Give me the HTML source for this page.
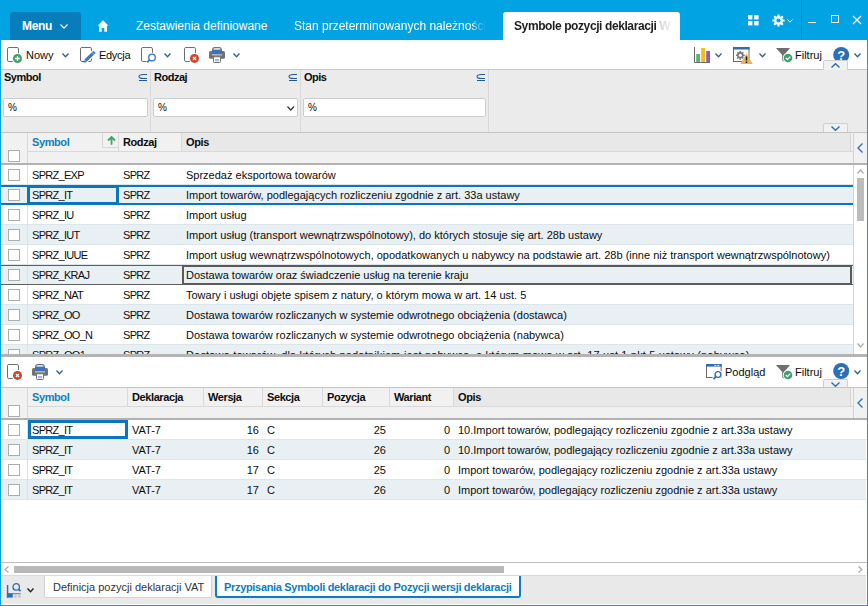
<!DOCTYPE html>
<html><head><meta charset="utf-8"><style>
*{box-sizing:border-box;margin:0;padding:0}
html,body{width:868px;height:606px;overflow:hidden}
body{position:relative;background:#01a3e2;font-family:"Liberation Sans",sans-serif;font-size:11px;color:#0c0c0c}
.a{position:absolute}
.t{position:absolute;white-space:nowrap;line-height:13px}
.w{color:#fff}
.b{font-weight:bold}
.u{letter-spacing:-0.7px}
.inp{position:absolute;background:#fff;border:1px solid #cdcdcd;border-radius:2px;height:19px}
.chk{position:absolute;left:8px;width:12px;height:12px;border:1px solid #adadad;background:#fff}
.r{text-align:right}
svg{position:absolute;overflow:visible}
</style></head><body>
<div class="a" style="left:10px;top:12px;width:71px;height:28px;background:#077dbb;border-radius:3px 3px 0 0"></div>
<div class="t w b" style="left:22px;top:20px;font-size:12px;letter-spacing:-0.3px">Menu</div>
<svg style="left:60px;top:24px" width="8" height="4.5" viewBox="0 0 8 4.5"><path d="M0.5 0.5 L4.0 4.2 L7.5 0.5" fill="none" stroke="#fff" stroke-width="1.2"/></svg>
<svg style="left:97px;top:20px" width="12" height="12" viewBox="0 0 12 12"><path d="M6 0.3 L11.5 5.8 L10 5.8 L10 11.7 L7.3 11.7 L7.3 8 L4.7 8 L4.7 11.7 L2 11.7 L2 5.8 L0.5 5.8 Z" fill="#fff"/></svg>
<div class="t w" style="left:136px;top:20px;font-size:12px">Zestawienia definiowane</div>
<div class="t w" style="left:294px;top:20px;font-size:12px;width:192px;overflow:hidden;-webkit-mask-image:linear-gradient(to right,#000 179px,rgba(0,0,0,0.55) 181px,rgba(0,0,0,0.25) 188px,transparent 192px)">Stan przeterminowanych należności</div>
<div class="a" style="left:503px;top:12px;width:177px;height:28px;background:#fff;border-radius:3px 3px 0 0"></div>
<div class="t b" style="left:514px;top:20px;font-size:12px;letter-spacing:-0.4px;color:#1e1e1e;width:158px;overflow:hidden;-webkit-mask-image:linear-gradient(to right,#000 144px,rgba(0,0,0,0.2) 146px,rgba(0,0,0,0.08) 156px,transparent 160px)">Symbole pozycji deklaracji W</div>
<svg style="left:747.7px;top:14.8px" width="11" height="11" viewBox="0 0 11 11"><rect x="0" y="0" width="4.4" height="4.4" fill="#fff"/><rect x="6.2" y="0" width="4.4" height="4.4" fill="#fff"/><rect x="0" y="6" width="4.4" height="4.4" fill="#fff"/><rect x="6.2" y="6" width="4.4" height="4.4" fill="#fff"/></svg>
<svg style="left:771.5px;top:14px" width="13" height="13" viewBox="0 0 13 13"><path d="M5.42 2.13 L5.48 0.38 L7.52 0.38 L7.58 2.13 L8.82 2.64 L10.10 1.46 L11.54 2.90 L10.36 4.18 L10.87 5.42 L12.62 5.48 L12.62 7.52 L10.87 7.58 L10.36 8.82 L11.54 10.10 L10.10 11.54 L8.82 10.36 L7.58 10.87 L7.52 12.62 L5.48 12.62 L5.42 10.87 L4.18 10.36 L2.90 11.54 L1.46 10.10 L2.64 8.82 L2.13 7.58 L0.38 7.52 L0.38 5.48 L2.13 5.42 L2.64 4.18 L1.46 2.90 L2.90 1.46 L4.18 2.64 Z" fill="#fff"/><circle cx="6.5" cy="6.5" r="2.1" fill="#01a3e2"/></svg>
<svg style="left:787px;top:19px" width="6" height="3.5" viewBox="0 0 6 3.5"><path d="M0.5 0.5 L3.0 3.2 L5.5 0.5" fill="none" stroke="#fff" stroke-width="1"/></svg>
<div class="a" style="left:801px;top:0px;width:1px;height:40px;background:#0a8ac4;"></div>
<div class="a" style="left:808px;top:22px;width:8px;height:1.3px;background:#fff;"></div>
<div class="a" style="left:831px;top:15px;width:8px;height:8px;border:1.2px solid #fff"></div>
<svg style="left:853px;top:16px" width="8" height="8" viewBox="0 0 8 8"><path d="M0 0 L8 8 M8 0 L0 8" stroke="#fff" stroke-width="1.2"/></svg>
<div class="a" style="left:1px;top:40px;width:866px;height:565px;background:#fff;"></div>
<div class="a" style="left:1px;top:69px;width:866px;height:1px;background:#c9c9c9;"></div>
<svg style="left:7px;top:47px" width="12" height="15" viewBox="0 0 12 15"><rect x="0.5" y="0.5" width="11" height="14" rx="1.4" fill="none" stroke="#6e6e6e" stroke-width="1"/></svg>
<svg style="left:7px;top:47px" width="16" height="17" viewBox="0 0 16 17"><circle cx="10.5" cy="11.5" r="5.6" fill="#fff"/><circle cx="10.5" cy="11.5" r="4.5" fill="#3f9f6b"/><path d="M10.5 9.1 V13.9 M8.1 11.5 H12.9" stroke="#fff" stroke-width="1.3"/></svg>
<div class="t " style="left:26px;top:49px;">Nowy</div>
<svg style="left:62px;top:53px" width="7" height="4" viewBox="0 0 7 4"><path d="M0.5 0.5 L3.5 3.7 L6.5 0.5" fill="none" stroke="#2f5f93" stroke-width="1.3"/></svg>
<svg style="left:80px;top:47px" width="12" height="15" viewBox="0 0 12 15"><rect x="0.5" y="0.5" width="11" height="14" rx="1.4" fill="none" stroke="#6e6e6e" stroke-width="1"/></svg>
<svg style="left:80px;top:47px" width="16" height="17" viewBox="0 0 16 17"><path d="M5.48 13.68 L14.6 4.8" stroke="#fff" stroke-width="5.4"/><path d="M3.4 15.7 L6.24 15.18 L4.0 12.88 Z" fill="#3d78c4"/><path d="M5.48 13.68 L14.6 4.8" stroke="#3d78c4" stroke-width="3.2"/><path d="M11.8 5.3 L14.1 7.6" stroke="#fff" stroke-width="0.6"/></svg>
<div class="t " style="left:99px;top:49px;letter-spacing:-0.3px">Edycja</div>
<svg style="left:141px;top:47px" width="12" height="15" viewBox="0 0 12 15"><rect x="0.5" y="0.5" width="11" height="14" rx="1.4" fill="none" stroke="#6e6e6e" stroke-width="1"/></svg>
<svg style="left:141px;top:47px" width="16" height="17" viewBox="0 0 16 17"><circle cx="11" cy="10.4" r="4.6" fill="#fff"/><path d="M8.6 12.8 L6.2 15.2" stroke="#fff" stroke-width="3.4"/><circle cx="11" cy="10.4" r="3.3" fill="#fff" stroke="#3d78c4" stroke-width="1.4"/><path d="M8.6 12.8 L6.1 15.3" stroke="#3d78c4" stroke-width="1.9"/></svg>
<svg style="left:164px;top:53px" width="7" height="4" viewBox="0 0 7 4"><path d="M0.5 0.5 L3.5 3.7 L6.5 0.5" fill="none" stroke="#2f5f93" stroke-width="1.3"/></svg>
<svg style="left:184px;top:47px" width="12" height="15" viewBox="0 0 12 15"><rect x="0.5" y="0.5" width="11" height="14" rx="1.4" fill="none" stroke="#6e6e6e" stroke-width="1"/></svg>
<svg style="left:184px;top:47px" width="16" height="17" viewBox="0 0 16 17"><circle cx="10.5" cy="11.4" r="5.6" fill="#fff"/><circle cx="10.5" cy="11.4" r="4.5" fill="#cd4426"/><path d="M8.9 9.8 L12.1 13 M12.1 9.8 L8.9 13" stroke="#fff" stroke-width="1.2"/></svg>
<svg style="left:209px;top:47px" width="16" height="16" viewBox="0 0 16 16"><path d="M3.7 3.5 V2.6 A2.1 2.1 0 0 1 5.8 0.6 H10.1 A2.1 2.1 0 0 1 12.2 2.6 V3.5" fill="#fff" stroke="#727272" stroke-width="1.2"/><rect x="0" y="4" width="16" height="7.8" rx="1.6" fill="#727272"/><rect x="3" y="2.6" width="10" height="4.7" fill="#3d72bd"/><rect x="3" y="7.3" width="10" height="1.1" fill="#cfcfcf"/><rect x="4.5" y="9.8" width="7" height="5.7" rx="0.8" fill="#fff" stroke="#727272" stroke-width="1"/><path d="M6 12.6 H10 M6 13.8 H10" stroke="#7aa3d8" stroke-width="0.9"/></svg>
<svg style="left:233px;top:53px" width="7" height="4" viewBox="0 0 7 4"><path d="M0.5 0.5 L3.5 3.7 L6.5 0.5" fill="none" stroke="#2f5f93" stroke-width="1.3"/></svg>
<svg style="left:694px;top:47px" width="17" height="16" viewBox="0 0 17 16"><path d="M0.5 0 V15.5 H16" fill="none" stroke="#6a6a6a" stroke-width="1"/><rect x="2.2" y="7" width="3.8" height="8" fill="#5cb56a"/><rect x="7.2" y="1" width="3.8" height="14" fill="#f6bd16"/><rect x="12.2" y="4" width="3.8" height="11" fill="#8a5cc4"/></svg>
<svg style="left:715px;top:53px" width="7" height="4" viewBox="0 0 7 4"><path d="M0.5 0.5 L3.5 3.7 L6.5 0.5" fill="none" stroke="#2f5f93" stroke-width="1.3"/></svg>
<svg style="left:733px;top:47px" width="20" height="18" viewBox="0 0 20 18"><rect x="0.5" y="0.5" width="15.5" height="14" fill="#fff" stroke="#6a6a6a" stroke-width="1"/><rect x="0" y="0" width="16.5" height="2.5" fill="#2f6db3"/><path d="M6.50 5.10 L6.58 3.96 L8.02 3.96 L8.10 5.10 L9.00 5.47 L9.86 4.72 L10.88 5.74 L10.13 6.60 L10.50 7.50 L11.64 7.58 L11.64 9.02 L10.50 9.10 L10.13 10.00 L10.88 10.86 L9.86 11.88 L9.00 11.13 L8.10 11.50 L8.02 12.64 L6.58 12.64 L6.50 11.50 L5.60 11.13 L4.74 11.88 L3.72 10.86 L4.47 10.00 L4.10 9.10 L2.96 9.02 L2.96 7.58 L4.10 7.50 L4.47 6.60 L3.72 5.74 L4.74 4.72 L5.60 5.47 Z" fill="#7a7a7a"/><circle cx="7.3" cy="8.3" r="1.5" fill="#fff"/><path d="M13.5 6.5 L19.7 17 L7.3 17 Z" fill="#e9b459"/><path d="M13.5 9.5 V13.6 M13.5 14.6 V16" stroke="#111" stroke-width="1.4"/></svg>
<svg style="left:759px;top:53px" width="7" height="4" viewBox="0 0 7 4"><path d="M0.5 0.5 L3.5 3.7 L6.5 0.5" fill="none" stroke="#2f5f93" stroke-width="1.3"/></svg>
<svg style="left:776px;top:47px" width="17" height="16" viewBox="0 0 17 16"><path d="M0 1 H14 L8.2 8 V14.5 L6.2 13.5 V8 Z" fill="#6f6f6f"/><circle cx="12" cy="11" r="5.2" fill="#fff"/><circle cx="12" cy="11" r="4.3" fill="#40a06c"/><path d="M9.8 11 L11.4 12.6 L14.3 9.6" fill="none" stroke="#fff" stroke-width="1.2"/></svg>
<div class="t " style="left:795px;top:49px;">Filtruj</div>
<svg style="left:833px;top:47px" width="17" height="17" viewBox="0 0 17 17"><circle cx="8.2" cy="8" r="8" fill="#2b6fb6"/><text x="8.3" y="12.6" text-anchor="middle" font-family="Liberation Sans" font-weight="bold" font-size="13" fill="#fff">?</text></svg>
<svg style="left:854px;top:53px" width="7" height="4" viewBox="0 0 7 4"><path d="M0.5 0.5 L3.5 3.7 L6.5 0.5" fill="none" stroke="#2f5f93" stroke-width="1.3"/></svg>
<div class="a" style="left:823px;top:60px;width:25px;height:10px;background:#f1f1f1;border:1px solid #cfcfcf;border-bottom:none;border-radius:2px 2px 0 0"></div>
<svg style="left:831px;top:63px" width="9" height="5" viewBox="0 0 9 5"><path d="M0.5 4.5 L4.5 0.8 L8.5 4.5" fill="none" stroke="#2a6db5" stroke-width="1.4"/></svg>
<div class="a" style="left:1px;top:70px;width:866px;height:62px;background:#ebebeb;"></div>
<div class="a" style="left:150px;top:70px;width:1px;height:62px;background:#d8d8d8;"></div>
<div class="a" style="left:300px;top:70px;width:1px;height:62px;background:#d8d8d8;"></div>
<div class="a" style="left:488px;top:70px;width:1px;height:62px;background:#d8d8d8;"></div>
<div class="t b" style="left:4px;top:71px;letter-spacing:-0.5px">Symbol</div>
<div class="t b" style="left:154px;top:71px;letter-spacing:-0.5px">Rodzaj</div>
<div class="t b" style="left:304px;top:71px;letter-spacing:-0.5px">Opis</div>
<svg style="left:138px;top:73px" width="10" height="10" viewBox="0 0 10 10"><path d="M9 1.5 H5.5 C2.2 1.5 1 2.5 1 3.5 C1 4.5 2.2 5.5 5.5 5.5 H9 M1 7.5 H9" fill="none" stroke="#1f5a96" stroke-width="1.1"/></svg>
<svg style="left:288px;top:73px" width="10" height="10" viewBox="0 0 10 10"><path d="M9 1.5 H5.5 C2.2 1.5 1 2.5 1 3.5 C1 4.5 2.2 5.5 5.5 5.5 H9 M1 7.5 H9" fill="none" stroke="#1f5a96" stroke-width="1.1"/></svg>
<svg style="left:476px;top:73px" width="10" height="10" viewBox="0 0 10 10"><path d="M9 1.5 H5.5 C2.2 1.5 1 2.5 1 3.5 C1 4.5 2.2 5.5 5.5 5.5 H9 M1 7.5 H9" fill="none" stroke="#1f5a96" stroke-width="1.1"/></svg>
<div class="inp" style="left:3px;top:98px;width:145px"></div>
<div class="inp" style="left:153px;top:98px;width:145px"></div>
<div class="inp" style="left:303px;top:98px;width:183px"></div>
<div class="t " style="left:8px;top:101px;font-size:10px">%</div>
<div class="t " style="left:158px;top:101px;font-size:10px">%</div>
<div class="t " style="left:308px;top:101px;font-size:10px">%</div>
<svg style="left:287px;top:105.5px" width="7.5" height="4.3" viewBox="0 0 7.5 4.3"><path d="M0.5 0.5 L3.75 4.0 L7.0 0.5" fill="none" stroke="#333" stroke-width="1.2"/></svg>
<div class="a" style="left:1px;top:132px;width:866px;height:1px;background:#c4c4c4;"></div>
<div class="a" style="left:823px;top:123px;width:25px;height:9px;background:#f1f1f1;border:1px solid #cfcfcf;border-bottom:none;border-radius:2px 2px 0 0"></div>
<svg style="left:831px;top:126px" width="9" height="4.5" viewBox="0 0 9 4.5"><path d="M0.5 0.5 L4.5 4.2 L8.5 0.5" fill="none" stroke="#2a6db5" stroke-width="1.4"/></svg>
<div class="a" style="left:1px;top:133px;width:866px;height:32px;background:#f1f1f1;"></div>
<div class="a" style="left:181px;top:133px;width:670px;height:18px;background:#e8e8e8;border-right:1px solid #d6d6d6"></div>
<div class="a" style="left:28px;top:151px;width:825px;height:1px;background:#d9d9d9;"></div>
<div class="a" style="left:27px;top:133px;width:1px;height:18px;background:#d9d9d9;"></div>
<div class="a" style="left:118px;top:133px;width:1px;height:18px;background:#d9d9d9;"></div>
<div class="a" style="left:181px;top:133px;width:1px;height:18px;background:#d9d9d9;"></div>
<div class="a" style="left:27px;top:151px;width:1px;height:12px;background:#d9d9d9;"></div>
<div class="a" style="left:102px;top:133px;width:16px;height:15px;border-left:1px solid #d6d6d6;border-bottom:1px solid #d6d6d6"></div>
<svg style="left:107px;top:136px" width="9" height="9" viewBox="0 0 9 9"><path d="M4.5 8.7 V1.2 M1 4.5 L4.5 1 L8 4.5" fill="none" stroke="#3fa46a" stroke-width="1.8"/></svg>
<div class="chk" style="top:150px"></div>
<div class="a" style="left:1px;top:163px;width:852px;height:2px;background:#b2b2b2;"></div>
<div class="a" style="left:853px;top:132px;width:1px;height:222px;background:#d3d3d3;"></div>
<div class="a" style="left:853px;top:163px;width:14px;height:2px;background:#b2b2b2;"></div>
<svg style="left:857px;top:143px" width="6" height="10" viewBox="0 0 6 10"><path d="M5.5 0.5 L1 5 L5.5 9.5" fill="none" stroke="#2a6db5" stroke-width="1.3"/></svg>
<div class="t b" style="left:32px;top:136px;color:#0e7fc3;letter-spacing:-0.4px">Symbol</div>
<div class="t b" style="left:123px;top:136px;letter-spacing:-0.4px">Rodzaj</div>
<div class="t b" style="left:186px;top:136px;letter-spacing:-0.4px">Opis</div>
<div class="a" style="left:1px;top:165px;width:852px;height:189px;overflow:hidden">
<div class="a" style="left:0;top:0px;width:852px;height:20px;background:#fff;border-bottom:1px solid #dde5ec"></div>
<div class="a" style="left:26px;top:0px;width:1px;height:20px;background:#d5e2ef"></div>
<div class="chk" style="left:7px;top:4px"></div>
<div class="t u" style="left:31px;top:4px">SPRZ_EXP</div>
<div class="t u" style="left:122px;top:4px">SPRZ</div>
<div class="t" style="left:185px;top:4px">Sprzedaż eksportowa towarów</div>
<div class="a" style="left:0;top:20px;width:852px;height:20px;background:#e9f0f4;border-bottom:1px solid #dde5ec"></div>
<div class="a" style="left:26px;top:20px;width:1px;height:20px;background:#d5e2ef"></div>
<div class="a" style="left:0;top:20px;width:852px;height:20px;border-top:2px solid #0a76bd;border-bottom:2px solid #0a76bd"></div>
<div class="a" style="left:26px;top:20px;width:92px;height:20px;border:3px solid #0a76bd"></div>
<div class="chk" style="left:7px;top:24px"></div>
<div class="t u" style="left:31px;top:24px">SPRZ_IT</div>
<div class="t u" style="left:122px;top:24px">SPRZ</div>
<div class="t" style="left:185px;top:24px">Import towarów, podlegających rozliczeniu zgodnie z art. 33a ustawy</div>
<div class="a" style="left:0;top:40px;width:852px;height:20px;background:#fff;border-bottom:1px solid #dde5ec"></div>
<div class="a" style="left:26px;top:40px;width:1px;height:20px;background:#d5e2ef"></div>
<div class="chk" style="left:7px;top:44px"></div>
<div class="t u" style="left:31px;top:44px">SPRZ_IU</div>
<div class="t u" style="left:122px;top:44px">SPRZ</div>
<div class="t" style="left:185px;top:44px">Import usług</div>
<div class="a" style="left:0;top:60px;width:852px;height:20px;background:#e9f0f4;border-bottom:1px solid #dde5ec"></div>
<div class="a" style="left:26px;top:60px;width:1px;height:20px;background:#d5e2ef"></div>
<div class="chk" style="left:7px;top:64px"></div>
<div class="t u" style="left:31px;top:64px">SPRZ_IUT</div>
<div class="t u" style="left:122px;top:64px">SPRZ</div>
<div class="t" style="left:185px;top:64px">Import usług (transport wewnątrzwspólnotowy), do których stosuje się art. 28b ustawy</div>
<div class="a" style="left:0;top:80px;width:852px;height:20px;background:#fff;border-bottom:1px solid #dde5ec"></div>
<div class="a" style="left:26px;top:80px;width:1px;height:20px;background:#d5e2ef"></div>
<div class="chk" style="left:7px;top:84px"></div>
<div class="t u" style="left:31px;top:84px">SPRZ_IUUE</div>
<div class="t u" style="left:122px;top:84px">SPRZ</div>
<div class="t" style="left:185px;top:84px">Import usług wewnątrzwspólnotowych, opodatkowanych u nabywcy na podstawie art. 28b (inne niż transport wewnątrzwspólnotowy)</div>
<div class="a" style="left:0;top:100px;width:852px;height:20px;background:#e9f0f4;border-bottom:1px solid #dde5ec"></div>
<div class="a" style="left:26px;top:100px;width:1px;height:20px;background:#d5e2ef"></div>
<div class="a" style="left:0;top:100px;width:852px;height:20px;border-top:1px solid #5f5f5f;border-bottom:1px solid #5f5f5f"></div>
<div class="a" style="left:181px;top:100px;width:670px;height:20px;border:2px solid #5a5a5a"></div>
<div class="chk" style="left:7px;top:104px"></div>
<div class="t u" style="left:31px;top:104px">SPRZ_KRAJ</div>
<div class="t u" style="left:122px;top:104px">SPRZ</div>
<div class="t" style="left:185px;top:104px">Dostawa towarów oraz świadczenie usług na terenie kraju</div>
<div class="a" style="left:0;top:120px;width:852px;height:20px;background:#fff;border-bottom:1px solid #dde5ec"></div>
<div class="a" style="left:26px;top:120px;width:1px;height:20px;background:#d5e2ef"></div>
<div class="chk" style="left:7px;top:124px"></div>
<div class="t u" style="left:31px;top:124px">SPRZ_NAT</div>
<div class="t u" style="left:122px;top:124px">SPRZ</div>
<div class="t" style="left:185px;top:124px">Towary i usługi objęte spisem z natury, o którym mowa w art. 14 ust. 5</div>
<div class="a" style="left:0;top:140px;width:852px;height:20px;background:#e9f0f4;border-bottom:1px solid #dde5ec"></div>
<div class="a" style="left:26px;top:140px;width:1px;height:20px;background:#d5e2ef"></div>
<div class="chk" style="left:7px;top:144px"></div>
<div class="t u" style="left:31px;top:144px">SPRZ_OO</div>
<div class="t u" style="left:122px;top:144px">SPRZ</div>
<div class="t" style="left:185px;top:144px">Dostawa towarów rozliczanych w systemie odwrotnego obciążenia (dostawca)</div>
<div class="a" style="left:0;top:160px;width:852px;height:20px;background:#fff;border-bottom:1px solid #dde5ec"></div>
<div class="a" style="left:26px;top:160px;width:1px;height:20px;background:#d5e2ef"></div>
<div class="chk" style="left:7px;top:164px"></div>
<div class="t u" style="left:31px;top:164px">SPRZ_OO_N</div>
<div class="t u" style="left:122px;top:164px">SPRZ</div>
<div class="t" style="left:185px;top:164px">Dostawa towarów rozliczanych w systemie odwrotnego obciążenia (nabywca)</div>
<div class="a" style="left:0;top:180px;width:852px;height:20px;background:#e9f0f4;border-bottom:1px solid #dde5ec"></div>
<div class="a" style="left:26px;top:180px;width:1px;height:20px;background:#d5e2ef"></div>
<div class="chk" style="left:7px;top:184px"></div>
<div class="t u" style="left:31px;top:184px">SPRZ_OO1</div>
<div class="t u" style="left:122px;top:184px">SPRZ</div>
<div class="t" style="left:185px;top:184px;letter-spacing:0.17px">Dostawa towarów, dla których podatnikiem jest nabywca, o którym mowa w art. 17 ust 1 pkt 5 ustawy (nabywca)</div>
</div>
<svg style="left:857px;top:169px" width="7" height="5" viewBox="0 0 7 5"><path d="M0.5 4.5 L3.5 1 L6.5 4.5" fill="none" stroke="#a9a9a9" stroke-width="1.2"/></svg>
<div class="a" style="left:857px;top:178px;width:7px;height:43px;background:#bcbcbc;"></div>
<svg style="left:857px;top:343px" width="7" height="5" viewBox="0 0 7 5"><path d="M0.5 0.5 L3.5 4 L6.5 0.5" fill="none" stroke="#a9a9a9" stroke-width="1.2"/></svg>
<div class="a" style="left:1px;top:354px;width:866px;height:3px;background:#b4b4b4;"></div>
<svg style="left:7px;top:364px" width="12" height="15" viewBox="0 0 12 15"><rect x="0.5" y="0.5" width="11" height="14" rx="1.4" fill="none" stroke="#6e6e6e" stroke-width="1"/></svg>
<svg style="left:7px;top:364px" width="16" height="17" viewBox="0 0 16 17"><circle cx="10.5" cy="11.4" r="5.6" fill="#fff"/><circle cx="10.5" cy="11.4" r="4.5" fill="#cd4426"/><path d="M8.9 9.8 L12.1 13 M12.1 9.8 L8.9 13" stroke="#fff" stroke-width="1.2"/></svg>
<svg style="left:32px;top:364px" width="16" height="16" viewBox="0 0 16 16"><path d="M3.7 3.5 V2.6 A2.1 2.1 0 0 1 5.8 0.6 H10.1 A2.1 2.1 0 0 1 12.2 2.6 V3.5" fill="#fff" stroke="#727272" stroke-width="1.2"/><rect x="0" y="4" width="16" height="7.8" rx="1.6" fill="#727272"/><rect x="3" y="2.6" width="10" height="4.7" fill="#3d72bd"/><rect x="3" y="7.3" width="10" height="1.1" fill="#cfcfcf"/><rect x="4.5" y="9.8" width="7" height="5.7" rx="0.8" fill="#fff" stroke="#727272" stroke-width="1"/><path d="M6 12.6 H10 M6 13.8 H10" stroke="#7aa3d8" stroke-width="0.9"/></svg>
<svg style="left:56px;top:370px" width="7" height="4" viewBox="0 0 7 4"><path d="M0.5 0.5 L3.5 3.7 L6.5 0.5" fill="none" stroke="#2f5f93" stroke-width="1.3"/></svg>
<svg style="left:706px;top:364px" width="17" height="17" viewBox="0 0 17 17"><rect x="0.5" y="0.5" width="14.6" height="13" fill="#fff" stroke="#6a6a6a" stroke-width="1"/><rect x="0" y="0" width="15.6" height="2.6" fill="#2f6db3"/><rect x="8.3" y="0.9" width="2" height="0.9" fill="#fff"/><rect x="11.3" y="0.9" width="2" height="0.9" fill="#fff"/><circle cx="12" cy="10.5" r="4.5" fill="#fff"/><path d="M9.8 12.7 L7.6 15" stroke="#fff" stroke-width="3.5"/><circle cx="12" cy="10.5" r="2.9" fill="#fff" stroke="#2f6db3" stroke-width="1.4"/><path d="M9.9 12.6 L7.5 15.1" stroke="#2f6db3" stroke-width="1.9"/></svg>
<div class="t " style="left:725px;top:366px;">Podgląd</div>
<svg style="left:776px;top:364px" width="17" height="16" viewBox="0 0 17 16"><path d="M0 1 H14 L8.2 8 V14.5 L6.2 13.5 V8 Z" fill="#6f6f6f"/><circle cx="12" cy="11" r="5.2" fill="#fff"/><circle cx="12" cy="11" r="4.3" fill="#40a06c"/><path d="M9.8 11 L11.4 12.6 L14.3 9.6" fill="none" stroke="#fff" stroke-width="1.2"/></svg>
<div class="t " style="left:795px;top:366px;">Filtruj</div>
<svg style="left:833px;top:363px" width="17" height="17" viewBox="0 0 17 17"><circle cx="8.2" cy="8" r="8" fill="#2b6fb6"/><text x="8.3" y="12.6" text-anchor="middle" font-family="Liberation Sans" font-weight="bold" font-size="13" fill="#fff">?</text></svg>
<svg style="left:854px;top:370px" width="7" height="4" viewBox="0 0 7 4"><path d="M0.5 0.5 L3.5 3.7 L6.5 0.5" fill="none" stroke="#2f5f93" stroke-width="1.3"/></svg>
<div class="a" style="left:823px;top:379px;width:25px;height:9px;background:#f1f1f1;border:1px solid #cfcfcf;border-bottom:none;border-radius:2px 2px 0 0"></div>
<svg style="left:831px;top:382px" width="9" height="4.5" viewBox="0 0 9 4.5"><path d="M0.5 0.5 L4.5 4.2 L8.5 0.5" fill="none" stroke="#2a6db5" stroke-width="1.4"/></svg>
<div class="a" style="left:1px;top:387px;width:866px;height:1px;background:#c4c4c4;"></div>
<div class="a" style="left:1px;top:388px;width:866px;height:32px;background:#f1f1f1;"></div>
<div class="a" style="left:453px;top:388px;width:398px;height:18px;background:#e8e8e8;border-right:1px solid #d6d6d6"></div>
<div class="a" style="left:28px;top:406px;width:825px;height:1px;background:#d9d9d9;"></div>
<div class="a" style="left:27px;top:388px;width:1px;height:18px;background:#d9d9d9;"></div>
<div class="a" style="left:127px;top:388px;width:1px;height:18px;background:#d9d9d9;"></div>
<div class="a" style="left:203px;top:388px;width:1px;height:18px;background:#d9d9d9;"></div>
<div class="a" style="left:262px;top:388px;width:1px;height:18px;background:#d9d9d9;"></div>
<div class="a" style="left:322px;top:388px;width:1px;height:18px;background:#d9d9d9;"></div>
<div class="a" style="left:389px;top:388px;width:1px;height:18px;background:#d9d9d9;"></div>
<div class="a" style="left:453px;top:388px;width:1px;height:18px;background:#d9d9d9;"></div>
<div class="a" style="left:27px;top:406px;width:1px;height:12px;background:#d9d9d9;"></div>
<div class="chk" style="top:405px"></div>
<div class="a" style="left:1px;top:418px;width:852px;height:2px;background:#b2b2b2;"></div>
<div class="a" style="left:853px;top:388px;width:1px;height:30px;background:#d3d3d3;"></div>
<div class="a" style="left:853px;top:418px;width:14px;height:2px;background:#b2b2b2;"></div>
<svg style="left:857px;top:398px" width="6" height="10" viewBox="0 0 6 10"><path d="M5.5 0.5 L1 5 L5.5 9.5" fill="none" stroke="#2a6db5" stroke-width="1.3"/></svg>
<div class="t b" style="left:32px;top:391px;color:#0e7fc3;letter-spacing:-0.4px">Symbol</div>
<div class="t b" style="left:132px;top:391px;letter-spacing:-0.4px">Deklaracja</div>
<div class="t b" style="left:208px;top:391px;letter-spacing:-0.4px">Wersja</div>
<div class="t b" style="left:267px;top:391px;letter-spacing:-0.4px">Sekcja</div>
<div class="t b" style="left:327px;top:391px;letter-spacing:-0.4px">Pozycja</div>
<div class="t b" style="left:394px;top:391px;letter-spacing:-0.4px">Wariant</div>
<div class="t b" style="left:458px;top:391px;letter-spacing:-0.4px">Opis</div>
<div class="a" style="left:1px;top:420px;width:865px;height:20px;background:#fff;border-bottom:1px solid #dde5ec"></div>
<div class="a" style="left:27px;top:420px;width:1px;height:20px;background:#d5e2ef"></div>
<div class="a" style="left:28px;top:420px;width:100px;height:19px;border:3px solid #0a76bd"></div>
<div class="chk" style="top:424px"></div>
<div class="t u" style="left:32px;top:424px">SPRZ_IT</div>
<div class="t" style="left:132px;top:424px">VAT-7</div>
<div class="t r" style="left:203px;width:56px;top:424px">16</div>
<div class="t" style="left:267px;top:424px">C</div>
<div class="t r" style="left:322px;width:64px;top:424px">25</div>
<div class="t r" style="left:389px;width:61px;top:424px">0</div>
<div class="t" style="left:458px;top:424px">10.Import towarów, podlegający rozliczeniu zgodnie z art.33a ustawy</div>
<div class="a" style="left:1px;top:440px;width:865px;height:20px;background:#e9f0f4;border-bottom:1px solid #dde5ec"></div>
<div class="a" style="left:27px;top:440px;width:1px;height:20px;background:#d5e2ef"></div>
<div class="chk" style="top:444px"></div>
<div class="t u" style="left:32px;top:444px">SPRZ_IT</div>
<div class="t" style="left:132px;top:444px">VAT-7</div>
<div class="t r" style="left:203px;width:56px;top:444px">16</div>
<div class="t" style="left:267px;top:444px">C</div>
<div class="t r" style="left:322px;width:64px;top:444px">26</div>
<div class="t r" style="left:389px;width:61px;top:444px">0</div>
<div class="t" style="left:458px;top:444px">10.Import towarów, podlegający rozliczeniu zgodnie z art.33a ustawy</div>
<div class="a" style="left:1px;top:460px;width:865px;height:20px;background:#fff;border-bottom:1px solid #dde5ec"></div>
<div class="a" style="left:27px;top:460px;width:1px;height:20px;background:#d5e2ef"></div>
<div class="chk" style="top:464px"></div>
<div class="t u" style="left:32px;top:464px">SPRZ_IT</div>
<div class="t" style="left:132px;top:464px">VAT-7</div>
<div class="t r" style="left:203px;width:56px;top:464px">17</div>
<div class="t" style="left:267px;top:464px">C</div>
<div class="t r" style="left:322px;width:64px;top:464px">25</div>
<div class="t r" style="left:389px;width:61px;top:464px">0</div>
<div class="t" style="left:458px;top:464px">Import towarów, podlegający rozliczeniu zgodnie z art.33a ustawy</div>
<div class="a" style="left:1px;top:480px;width:865px;height:20px;background:#e9f0f4;border-bottom:1px solid #dde5ec"></div>
<div class="a" style="left:27px;top:480px;width:1px;height:20px;background:#d5e2ef"></div>
<div class="chk" style="top:484px"></div>
<div class="t u" style="left:32px;top:484px">SPRZ_IT</div>
<div class="t" style="left:132px;top:484px">VAT-7</div>
<div class="t r" style="left:203px;width:56px;top:484px">17</div>
<div class="t" style="left:267px;top:484px">C</div>
<div class="t r" style="left:322px;width:64px;top:484px">26</div>
<div class="t r" style="left:389px;width:61px;top:484px">0</div>
<div class="t" style="left:458px;top:484px">Import towarów, podlegający rozliczeniu zgodnie z art.33a ustawy</div>
<div class="a" style="left:1px;top:562px;width:852px;height:1px;background:#bdbdbd;"></div>
<div class="a" style="left:853px;top:562px;width:14px;height:1px;background:#bdbdbd;"></div>
<svg style="left:4px;top:566px" width="5" height="7" viewBox="0 0 5 7"><path d="M4.5 0.5 L1 3.5 L4.5 6.5" fill="none" stroke="#a9a9a9" stroke-width="1.2"/></svg>
<div class="a" style="left:14px;top:566px;width:490px;height:7px;background:#b8b8b8;"></div>
<svg style="left:858px;top:566px" width="5" height="7" viewBox="0 0 5 7"><path d="M0.5 0.5 L4 3.5 L0.5 6.5" fill="none" stroke="#a9a9a9" stroke-width="1.2"/></svg>
<div class="a" style="left:1px;top:575px;width:865px;height:29px;background:#e9e9e9;border-top:1px solid #d9d9d9"></div>
<svg style="left:6px;top:583px" width="16" height="16" viewBox="0 0 16 16"><rect x="0.9" y="2" width="1.4" height="12.6" fill="#2f6db3"/><rect x="0.9" y="10.3" width="13.8" height="0.9" fill="#2f6db3"/><rect x="0.9" y="10.5" width="5.9" height="4.1" fill="#2f6db3"/><rect x="8.2" y="12.2" width="2.4" height="2.4" fill="#c2c2c2"/><rect x="12.1" y="12.2" width="2.6" height="2.4" fill="#c2c2c2"/><circle cx="10.2" cy="3.9" r="3.2" fill="none" stroke="#2f6db3" stroke-width="1.3"/><path d="M12.4 6.2 L14.6 8.2" stroke="#2f6db3" stroke-width="1.7"/></svg>
<svg style="left:27px;top:588px" width="7" height="4" viewBox="0 0 7 4"><path d="M0.5 0.5 L3.5 3.7 L6.5 0.5" fill="none" stroke="#222" stroke-width="1.4"/></svg>
<div class="a" style="left:44px;top:576px;width:168px;height:22px;background:#fff;border:1px solid #d2d2d2;border-top:none;border-radius:0 0 2px 2px"></div>
<div class="t " style="left:53px;top:581px;color:#333">Definicja pozycji deklaracji VAT</div>
<div class="a" style="left:215px;top:576px;width:306px;height:22px;background:#fff;border:2px solid #0d7cc1;border-top:none;border-radius:0 0 3px 3px"></div>
<div class="t b" style="left:224px;top:581px;color:#0d7cc1;letter-spacing:-0.32px">Przypisania Symboli deklaracji do Pozycji wersji deklaracji</div>
</body></html>
